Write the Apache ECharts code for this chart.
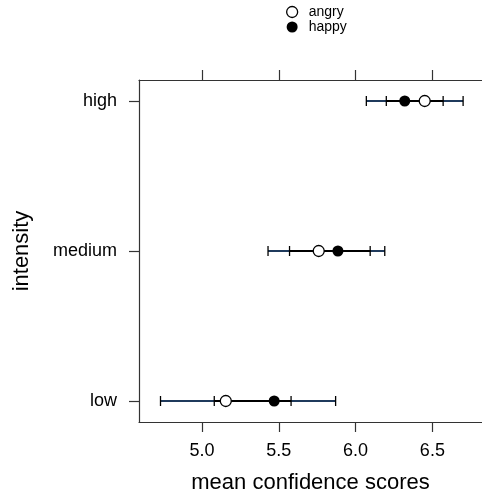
<!DOCTYPE html>
<html lang="en">
<head>
    <meta charset="utf-8">
    <script src="https://cdn.jsdelivr.net/npm/echarts@6/dist/echarts.min.js"></script>
    <title>intensity</title>
</head>
<body style="margin:0">
<div id="container" style="width:482px;height:499px"></div>
<script type="text/javascript">
    // data
    const categories = ['low', 'medium', 'high'];
    const angryMean = [5.155, 5.76, 6.45];
    const happyMean = [5.47, 5.885, 6.32];
    const outerLow = [4.73, 5.43, 6.07];
    const outerHigh = [5.87, 6.19, 6.70];
    const innerLow = [5.08, 5.57, 6.20];
    const innerHigh = [5.58, 6.095, 6.57];
    const xTicks = [5.0, 5.5, 6.0, 6.5];
    const yTicks = [1, 2, 3];

    const font = 'Liberation Sans, Arial, sans-serif';
    const navy = '#1f3a5c';

    const chart = echarts.init(document.getElementById('container'), null, {renderer: 'canvas'});

    const barData = categories.map((c, i) => [i + 1, outerLow[i], innerLow[i], innerHigh[i], outerHigh[i]]);

    function renderBars(params, api) {
        const y = api.value(0);
        const a = api.coord([api.value(1), y]);
        const b = api.coord([api.value(2), y]);
        const c = api.coord([api.value(3), y]);
        const d = api.coord([api.value(4), y]);
        const h = 5;
        const tick = p => ({
            type: 'line',
            shape: {x1: p[0], y1: p[1] - h, x2: p[0], y2: p[1] + h},
            style: {stroke: '#000', lineWidth: 1.3}
        });
        return {
            type: 'group',
            children: [
                {type: 'line', shape: {x1: a[0], y1: a[1], x2: d[0], y2: d[1]}, style: {stroke: navy, lineWidth: 2}},
                {type: 'line', shape: {x1: b[0], y1: b[1], x2: c[0], y2: c[1]}, style: {stroke: '#000', lineWidth: 2.2}},
                tick(a), tick(b), tick(c), tick(d)
            ]
        };
    }

    const xCommon = {
        type: 'value',
        min: 4.59,
        max: 6.823,
        splitLine: {show: false},
        axisLine: {show: true, onZero: false, lineStyle: {color: '#333', width: 1.2}},
        axisTick: {show: true, inside: false, length: 10, customValues: xTicks, lineStyle: {color: '#333', width: 1.2}}
    };

    chart.setOption({
        animation: false,
        textStyle: {fontFamily: font},
        legend: {
            orient: 'vertical',
            left: 286,
            top: 5,
            padding: 0,
            itemGap: 1,
            itemWidth: 13,
            itemHeight: 11,
            textStyle: {fontSize: 14, color: '#000', fontFamily: font, padding: [0, 0, 0, 5]},
            data: [
                {name: 'angry', icon: 'circle', itemStyle: {color: '#fff', borderColor: '#000', borderWidth: 1.3}},
                {name: 'happy', icon: 'circle', itemStyle: {color: '#000'}}
            ]
        },
        grid: {left: 139, top: 80, right: 0, bottom: 76},
        xAxis: [
            Object.assign({}, xCommon, {
                position: 'bottom',
                name: 'mean confidence scores',
                nameLocation: 'middle',
                nameGap: 50,
                nameTextStyle: {fontSize: 22, color: '#000', fontFamily: font},
                axisLabel: {customValues: xTicks, margin: 20, fontSize: 18, color: '#000', fontFamily: font,
                    formatter: v => v.toFixed(1)}
            }),
            Object.assign({}, xCommon, {
                position: 'top',
                axisLabel: {show: false}
            })
        ],
        yAxis: {
            type: 'value',
            min: 0.86,
            max: 3.14,
            name: 'intensity',
            nameLocation: 'middle',
            nameGap: 106,
            nameTextStyle: {fontSize: 22, color: '#000', fontFamily: font},
            splitLine: {show: false},
            axisLine: {show: true, onZero: false, lineStyle: {color: '#333', width: 1.2}},
            axisTick: {show: true, length: 10, customValues: yTicks, lineStyle: {color: '#333', width: 1.2}},
            axisLabel: {customValues: yTicks, margin: 22, fontSize: 18, color: '#000', fontFamily: font,
                formatter: v => categories[Math.round(v) - 1] || ''}
        },
        series: [
            {
                type: 'custom',
                name: 'ci',
                renderItem: renderBars,
                encode: {y: 0, x: [1, 2, 3, 4]},
                data: barData,
                z: 1
            },
            {
                type: 'scatter',
                name: 'angry',
                symbol: 'circle',
                symbolSize: 11,
                itemStyle: {color: '#fff', borderColor: '#000', borderWidth: 1.3, opacity: 1},
                data: angryMean.map((v, i) => [v, i + 1]),
                z: 3
            },
            {
                type: 'scatter',
                name: 'happy',
                symbol: 'circle',
                symbolSize: 11,
                itemStyle: {color: '#000', opacity: 1},
                data: happyMean.map((v, i) => [v, i + 1]),
                z: 3
            }
        ]
    });
</script>
</body>
</html>
